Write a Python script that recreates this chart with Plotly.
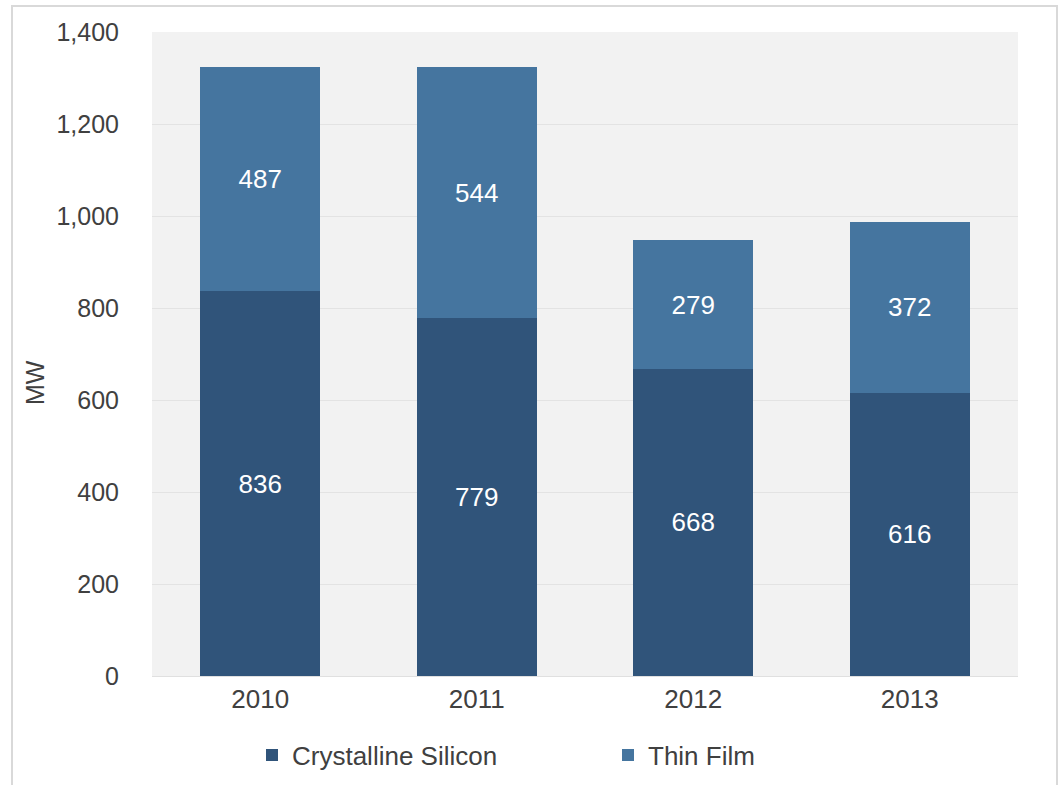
import plotly.graph_objects as go

years = ["2010", "2011", "2012", "2013"]
crystalline = [836, 779, 668, 616]
thin_film = [487, 544, 279, 372]
y_ticks = [0, 200, 400, 600, 800, 1000, 1200, 1400]
y_tick_text = ["0", "200", "400", "600", "800", "1,000", "1,200", "1,400"]

W, H = 1058, 785
L, R, T, B = 152, 40, 32, 109
pw, ph = W - L - R, H - T - B

font = "Liberation Sans, Arial, sans-serif"
txt = "#404040"

fig = go.Figure()
fig.add_trace(go.Bar(
    x=years, y=crystalline, name="Crystalline Silicon",
    marker=dict(color="#30547a", line=dict(width=0)),
    text=[str(v) for v in crystalline], textposition="inside",
    insidetextanchor="middle",
    textfont=dict(color="white", size=26, family=font),
))
fig.add_trace(go.Bar(
    x=years, y=thin_film, name="Thin Film",
    marker=dict(color="#45759f", line=dict(width=0)),
    text=[str(v) for v in thin_film], textposition="inside",
    insidetextanchor="middle",
    textfont=dict(color="white", size=26, family=font),
))

fig.add_shape(
    type="rect", xref="paper", yref="paper",
    x0=(12 - L) / pw, x1=(1057 - L) / pw,
    y0=-2, y1=(H - B - 6) / ph,
    line=dict(color="#d9d9d9", width=2), fillcolor="rgba(0,0,0,0)",
    layer="below",
)

fig.add_annotation(
    text="MW", xref="paper", yref="paper",
    x=(35 - L) / pw, y=(H - B - 382) / ph,
    xanchor="center", yanchor="middle", textangle=-90, showarrow=False,
    font=dict(size=25, color=txt, family=font),
)

fig.update_layout(
    width=W, height=H,
    margin=dict(l=L, r=R, t=T, b=B, autoexpand=False),
    barmode="stack", bargap=0.446,
    plot_bgcolor="#f2f2f2", paper_bgcolor="white",
    font=dict(family=font, size=25, color=txt),
    uniformtext=dict(minsize=26, mode="show"),
    showlegend=True,
    legend=dict(
        orientation="h", xref="container", x=252 / W, xanchor="left",
        y=-(755 - (H - B)) / ph, yanchor="middle",
        entrywidth=311, entrywidthmode="pixels",
        font=dict(size=26, color=txt, family=font),
        traceorder="normal", itemsizing="constant",
    ),
    xaxis=dict(
        showgrid=False, showline=True, linecolor="#e0e0e0", linewidth=1,
        tickfont=dict(size=26, color=txt), ticks="",
    ),
    yaxis=dict(
        range=[0, 1400], tickvals=y_ticks, ticktext=y_tick_text,
        showgrid=True, gridcolor="#e3e3e3", gridwidth=1,
        zeroline=False, ticks="", ticklabelstandoff=32,
        tickfont=dict(size=25, color=txt),
    ),
)

fig.write_html(
    "out.html",
    config={"displayModeBar": False},
    post_script="document.body.style.margin='0';",
)
